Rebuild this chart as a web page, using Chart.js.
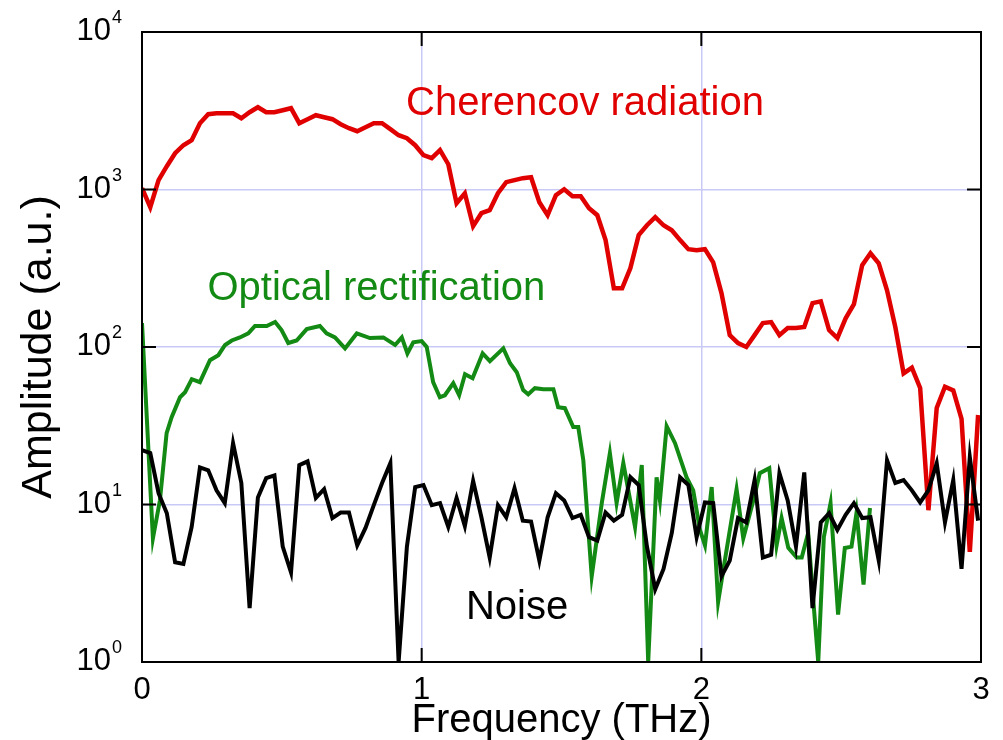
<!DOCTYPE html>
<html>
<head>
<meta charset="utf-8">
<title>THz amplitude spectra</title>
<script src="https://cdn.jsdelivr.net/npm/chart.js@4.4.1/dist/chart.umd.min.js"></script>
<style>
    html, body { margin: 0; padding: 0; background: #fff; }
</style>
</head>
<body>
<canvas id="spectrumChart" width="1003" height="740"></canvas>
<script>
// Frequency step of the Cherencov and noise spectra (THz)
const FREQ_STEP = 0.0296;

// Cherencov radiation amplitude (a.u.), one value per FREQ_STEP starting at 0 THz
const cherencovAmp = [
    1020, 772, 1146, 1406, 1700, 1911, 2056, 2636, 3007, 3051,
    3051, 3051, 2836, 3096, 3330, 3096, 3096, 3188, 3282, 2636,
    2795, 2963, 2877, 2795, 2597, 2450, 2345, 2486, 2636, 2636,
    2415, 2212, 2117, 1911, 1651, 1580, 1777, 1447, 819, 947,
    585, 707, 739, 947, 1113, 1146, 1180, 1197, 831, 687,
    920, 1004, 907, 907, 761, 687, 477, 236, 236, 317,
    513, 593, 667, 593, 551, 477, 418, 412, 418, 345,
    220, 119, 106, 100, 119, 142, 144, 119, 132, 132,
    134, 190, 195, 128, 114, 152, 187, 331, 394, 340,
    229, 134, 68, 74, 55, 9.2, 41, 56, 53, 35,
    5.0, 37
];

// Noise floor (a.u.), same frequency grid
const noiseAmp = [
    22.1, 21.2, 11.8, 8.8, 4.3, 4.2, 7.2, 17.2, 16.5, 12.3,
    10.2, 24.5, 13.7, 2.2, 11.1, 14.7, 15.3, 5.4, 3.7, 17.8,
    18.8, 11.0, 12.5, 8.2, 8.9, 8.9, 5.5, 7.1, 9.9, 13.7,
    18.3, 1.0, 5.4, 12.9, 13.3, 9.9, 10.2, 7.2, 11.0, 7.3,
    14.1, 8.3, 4.6, 9.9, 8.3, 12.7, 7.9, 7.8, 4.4, 8.3,
    11.8, 10.6, 8.2, 8.6, 6.2, 5.9, 8.9, 7.9, 8.6, 14.9,
    13.3, 5.4, 2.9, 3.9, 6.6, 14.9, 13.3, 6.2, 10.3, 10.2,
    3.5, 4.4, 8.2, 7.7, 14.3, 4.6, 4.8, 15.8, 10.6, 5.4,
    16.0, 2.2, 7.7, 8.8, 6.9, 8.6, 10.2, 8.2, 8.3, 4.4,
    19.1, 13.7, 14.3, 12.3, 10.3, 12.3, 18.3, 7.7, 14.3, 3.9,
    20.0, 7.9
];

// Optical rectification spectrum has its own (finer) sampling
const rectFreq = [
    0.000, 0.039, 0.064, 0.088, 0.106, 0.136, 0.154, 0.178, 0.207, 0.243,
    0.273, 0.297, 0.321, 0.350, 0.380, 0.404, 0.446, 0.476, 0.499, 0.523,
    0.553, 0.589, 0.636, 0.660, 0.690, 0.726, 0.768, 0.815, 0.863, 0.905,
    0.929, 0.949, 0.970, 1.000, 1.018, 1.041, 1.065, 1.083, 1.113, 1.134,
    1.155, 1.182, 1.218, 1.244, 1.292, 1.316, 1.340, 1.363, 1.381, 1.405,
    1.435, 1.471, 1.488, 1.512, 1.542, 1.560, 1.578, 1.608, 1.644, 1.673,
    1.697, 1.721, 1.763, 1.787, 1.810, 1.840, 1.852, 1.876, 1.906, 1.947,
    1.971, 1.995, 2.013, 2.037, 2.060, 2.084, 2.126, 2.150, 2.186, 2.209,
    2.243, 2.269, 2.287, 2.311, 2.341, 2.359, 2.382, 2.400, 2.418, 2.438,
    2.462, 2.489, 2.513, 2.537, 2.555, 2.580, 2.603
];
const rectAmp = [
    142, 6.1, 10.6, 28.4, 35.8, 48.0, 51.6, 62.5, 59.8, 82.4,
    88.7, 103, 110, 115, 122, 136, 136, 144, 128, 106,
    110, 130, 136, 122, 115, 98, 122, 114, 115, 103,
    115, 91, 107, 109, 100, 59.8, 48.0, 49.4, 58.9, 49.4,
    67.2, 63.4, 91, 81.3, 98, 78.9, 69.2, 53.2, 50.1, 54.8,
    54.0, 54.0, 41.5, 40.9, 31.0, 31.0, 19.1, 3.5, 10.2, 21.2,
    10.2, 18.3, 7.2, 17.8, 1.0, 14.9, 10.6, 31.4, 24.5, 14.9,
    12.3, 6.9, 5.5, 12.9, 2.4, 4.4, 12.5, 6.1, 10.6, 15.8,
    17.0, 5.5, 8.2, 5.3, 4.6, 4.6, 6.6, 2.5, 1.0, 6.2,
    10.2, 2.0, 5.3, 5.4, 8.9, 3.1, 9.5
];

// Axis ticks
const xTicks = [0, 1, 2, 3];
const yExponents = [0, 1, 2, 3, 4];

// In-plot series labels: [text, frequency (THz), amplitude, colour]
const seriesLabels = [
    ['Cherencov radiation', 1.584, 3480, '#e00000'],
    ['Optical rectification', 0.838, 233, '#138a13'],
    ['Noise', 1.341, 2.2, '#000000']
];

const FONT = "'Liberation Sans', Arial, Helvetica, sans-serif";
const GRID_COLOR = '#c9c9f5';
const TICK_LEN = 14;

const gridFreq = cherencovAmp.map((_, i) => +(i * FREQ_STEP).toFixed(4));

function toPoints(freqs, amps) {
    return amps.map((a, i) => ({ x: freqs[i], y: a }));
}

// Frame, inward tick marks, 10^n labels and series captions
const decorPlugin = {
    id: 'decor',
    afterDraw(chart) {
        const { ctx, chartArea: area, scales } = chart;
        const xs = scales.x, ys = scales.y;
        ctx.save();

        ctx.strokeStyle = '#000';
        ctx.lineWidth = 2;
        ctx.beginPath();
        yExponents.slice(1, -1).forEach(p => {
            const py = ys.getPixelForValue(Math.pow(10, p));
            ctx.moveTo(area.left, py); ctx.lineTo(area.left + TICK_LEN, py);
            ctx.moveTo(area.right, py); ctx.lineTo(area.right - TICK_LEN, py);
        });
        xTicks.slice(1, -1).forEach(v => {
            const px = xs.getPixelForValue(v);
            ctx.moveTo(px, area.bottom); ctx.lineTo(px, area.bottom - TICK_LEN);
            ctx.moveTo(px, area.top); ctx.lineTo(px, area.top + TICK_LEN);
        });
        ctx.stroke();
        ctx.strokeRect(area.left, area.top, area.right - area.left, area.bottom - area.top);

        // y tick labels as 10 with a raised exponent
        ctx.fillStyle = '#000';
        ctx.textBaseline = 'alphabetic';
        yExponents.forEach(p => {
            const py = ys.getPixelForValue(Math.pow(10, p));
            ctx.font = '31px ' + FONT;
            ctx.textAlign = 'right';
            ctx.fillText('10', area.left - 31, py + 8);
            ctx.font = '18px ' + FONT;
            ctx.textAlign = 'left';
            ctx.fillText(String(p), area.left - 30, py - 9);
        });

        ctx.font = '40px ' + FONT;
        ctx.textAlign = 'center';
        ctx.textBaseline = 'middle';
        seriesLabels.forEach(([text, f, a, color]) => {
            ctx.fillStyle = color;
            ctx.fillText(text, xs.getPixelForValue(f), ys.getPixelForValue(a));
        });
        ctx.restore();
    }
};

new Chart(document.getElementById('spectrumChart'), {
    type: 'line',
    data: {
        datasets: [
            {
                label: 'Noise',
                data: toPoints(gridFreq, noiseAmp),
                borderColor: '#000000',
                borderWidth: 4
            },
            {
                label: 'Optical rectification',
                data: toPoints(rectFreq, rectAmp),
                borderColor: '#138a13',
                borderWidth: 4
            },
            {
                label: 'Cherencov radiation',
                data: toPoints(gridFreq, cherencovAmp),
                borderColor: '#e00000',
                borderWidth: 4.5
            }
        ]
    },
    options: {
        responsive: false,
        devicePixelRatio: 1,
        animation: false,
        layout: { padding: { top: 32, right: 22, left: 0, bottom: 0 } },
        elements: {
            point: { radius: 0 },
            line: { tension: 0, fill: false }
        },
        plugins: {
            legend: { display: false },
            tooltip: { enabled: false }
        },
        scales: {
            x: {
                type: 'linear',
                min: 0,
                max: 3,
                afterFit: scale => { scale.height = 78; },
                border: { display: false },
                grid: {
                    drawTicks: false,
                    lineWidth: 1.5,
                    color: c => (c.tick && c.tick.value > 0 && c.tick.value < 3) ? GRID_COLOR : 'rgba(0,0,0,0)'
                },
                ticks: {
                    stepSize: 1,
                    padding: 10,
                    color: '#000',
                    font: { family: FONT, size: 31 }
                },
                title: {
                    display: true,
                    text: 'Frequency (THz)',
                    color: '#000',
                    padding: { top: 0, bottom: -5 },
                    font: { family: FONT, size: 40 }
                }
            },
            y: {
                type: 'logarithmic',
                min: 1,
                max: 10000,
                afterFit: scale => { scale.width = 142; },
                border: { display: false },
                grid: {
                    drawTicks: false,
                    lineWidth: 1.5,
                    color: c => {
                        const v = c.tick ? c.tick.value : 0;
                        return (v === 10 || v === 100 || v === 1000) ? GRID_COLOR : 'rgba(0,0,0,0)';
                    }
                },
                ticks: { display: false },
                title: {
                    display: true,
                    text: 'Amplitude (a.u.)',
                    color: '#000',
                    padding: { top: 13, bottom: 0 },
                    font: { family: FONT, size: 43 }
                }
            }
        }
    },
    plugins: [decorPlugin]
});
</script>
</body>
</html>
